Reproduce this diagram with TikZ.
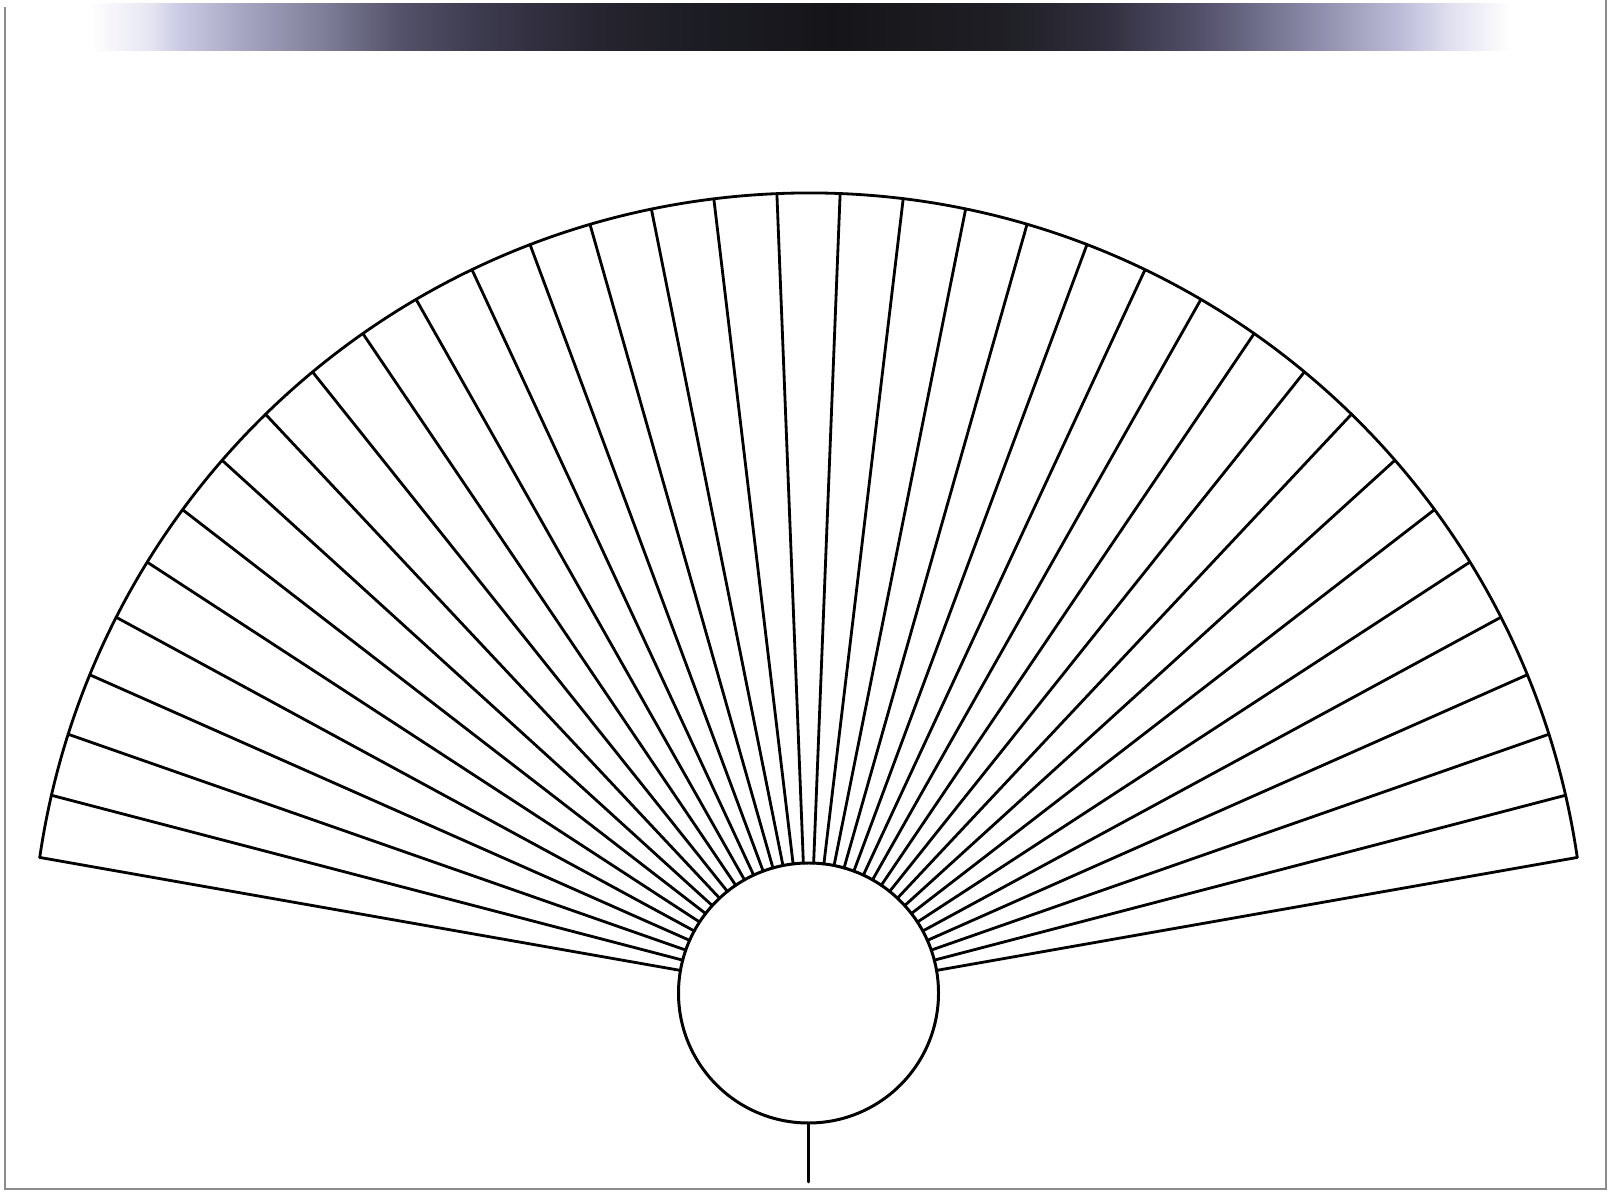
\documentclass[tikz,border=0pt]{standalone}
\usetikzlibrary{calc}
\definecolor{framegray}{HTML}{8C8C8C}
\definecolor{b1}{HTML}{E6E6F2}
\definecolor{b2}{HTML}{CACAE4}
\definecolor{b3}{HTML}{A2A2BE}
\definecolor{b4}{HTML}{80809A}
\definecolor{b5}{HTML}{54526A}
\definecolor{b6}{HTML}{3C3A4E}
\definecolor{b7}{HTML}{26242E}
\definecolor{b8}{HTML}{1C1C24}
\definecolor{b9}{HTML}{151519}
\definecolor{c8}{HTML}{1E1E24}
\definecolor{c7}{HTML}{302E3C}
\definecolor{c6}{HTML}{52506A}
\definecolor{c5}{HTML}{8484A2}
\definecolor{c4}{HTML}{BCBCD8}
\definecolor{c3}{HTML}{E0E0F0}
\pgfdeclarehorizontalshading{topbar}{100bp}{color(0bp)=(white); color(25bp)=(white); color(27.11bp)=(b1); color(28.17bp)=(b2); color(30.63bp)=(b3); color(33.10bp)=(b4); color(35.92bp)=(b5); color(38.73bp)=(b6); color(42.96bp)=(b7); color(46.48bp)=(b8); color(51.06bp)=(b9); color(57.04bp)=(c8); color(60.56bp)=(c7); color(64.08bp)=(c6); color(67.61bp)=(c5); color(71.13bp)=(c4); color(72.89bp)=(c3); color(75bp)=(white); color(100bp)=(white)}
\begin{document}
\begin{tikzpicture}[x=1cm,y=1cm,
  ray/.style={line width=0.8pt, line cap=round, line join=round},
  hubstyle/.style={circle, draw, line width=0.85pt, minimum size=2.6cm, inner sep=0pt, outer sep=0pt},
  frameline/.style={draw=framegray, line width=0.6pt}]
\useasboundingbox (0,0) rectangle (16.08,11.92);
% top gradient bar
\shade[shading=topbar] (0.90,11.41) rectangle (15.10,11.88);
% frame
\draw[frameline] (0.05,11.85) -- (0.05,0.03) -- (16.06,0.03) -- (16.06,11.92);
% hub and centre of the outer arc
\node[hubstyle] (hub) at (8.085,1.99) {};
\coordinate (arcc) at (8.085,2.22);
% outer arc limits
\pgfmathsetmacro\phiS{asin((7.80663*sin(10)-0.23)/7.77)}
\pgfmathsetmacro\phiE{180-\phiS}
\pgfmathsetmacro\phiD{(\phiE-\phiS)/35}
% rays
\foreach \i in {0,...,35} {
  \pgfmathsetmacro\p{\phiS+\i*\phiD}
  \coordinate (e\i) at ($(arcc)+(\p:7.77)$);
  \draw[ray] (hub) -- (e\i);
}
% outer arc
\draw[ray] (e0) arc[start angle=\phiS, end angle=\phiE, radius=7.77];
% stem
\coordinate (stemend) at (8.085,0.10);
\draw[ray] (hub.south) -- (stemend);
\end{tikzpicture}
\end{document}
